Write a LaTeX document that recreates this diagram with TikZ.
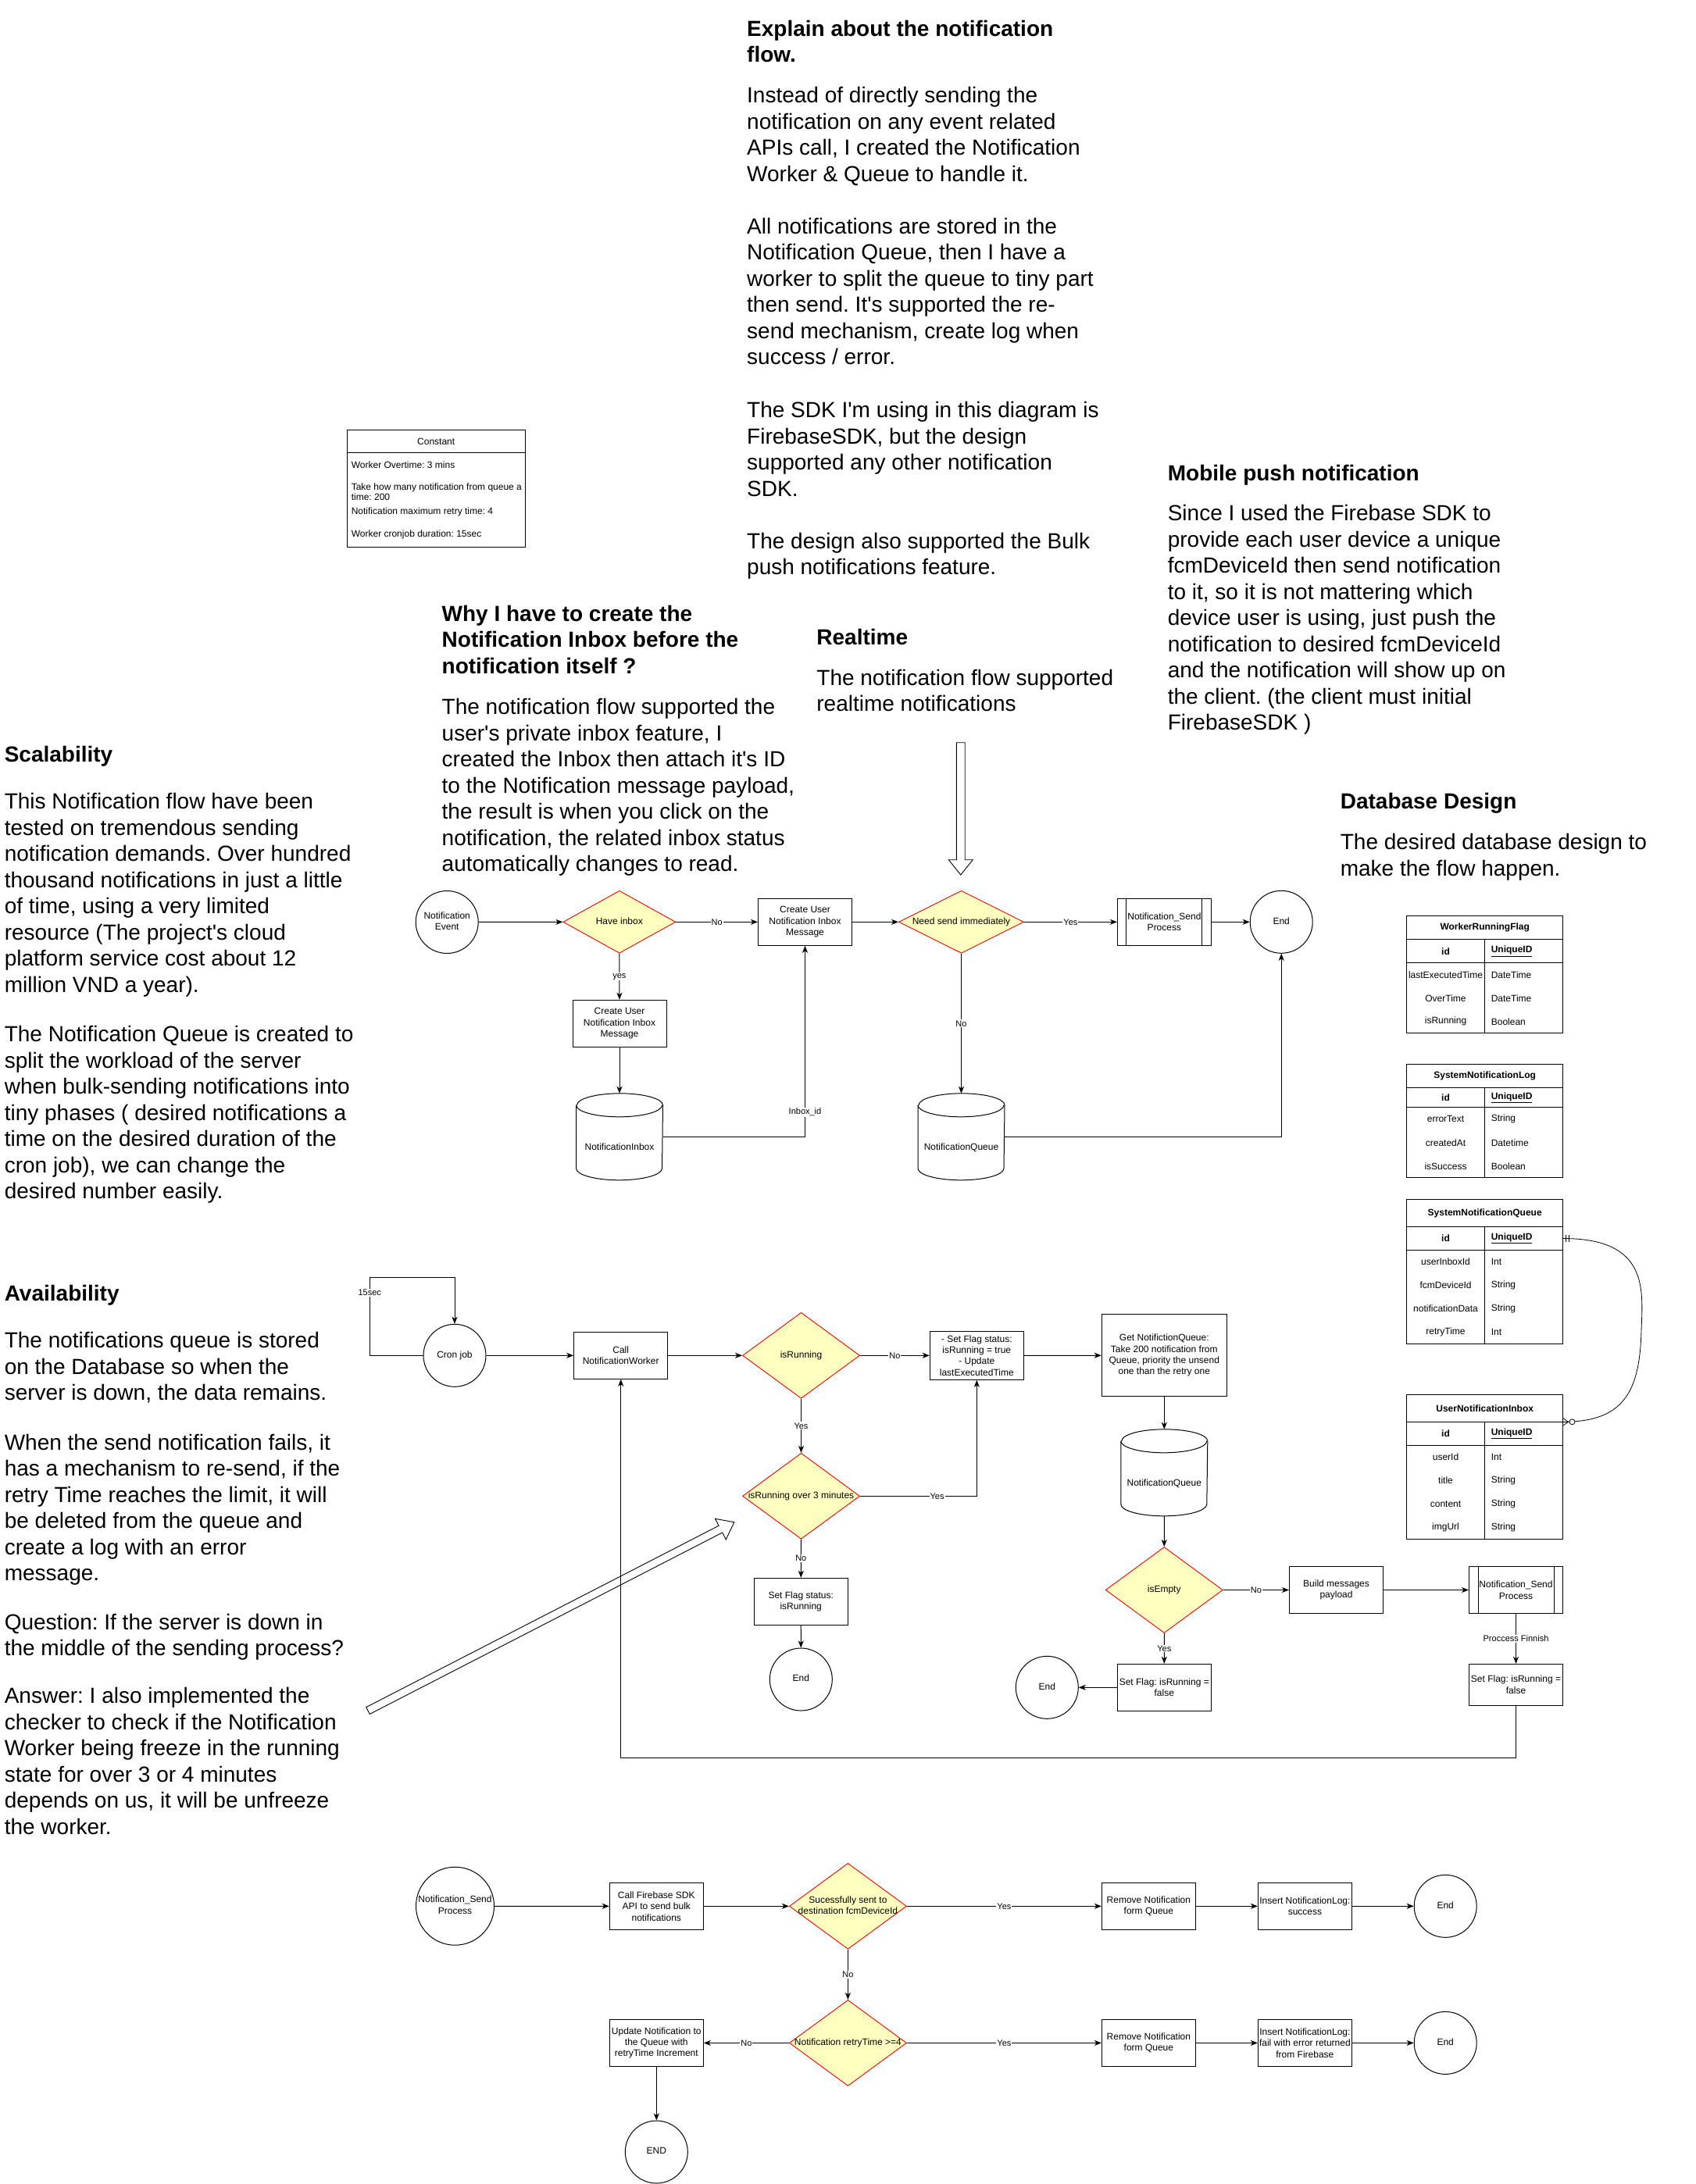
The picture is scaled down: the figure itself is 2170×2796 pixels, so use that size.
\documentclass[tikz,border=0pt]{standalone}
\usepackage{fontspec}
\setmainfont{Liberation Sans}
\usetikzlibrary{shapes.geometric,arrows.meta,calc}
\frenchspacing
\definecolor{decfill}{HTML}{FFFFC0}
\definecolor{decline}{HTML}{FF0000}
\newcommand\q{\textquotesingle}
\newcommand\zw[1]{\makebox[0pt]{\begin{tabular}{@{}c@{}}#1\end{tabular}}}
\newcommand\cyltxt[1]{\makebox[0pt]{\raisebox{-16.7pt}[0pt][0pt]{#1}}}
\newcommand\cylout[1]{%
  \draw ($(#1.north west)+(0,15)$) -- ($(#1.south west)+(0,-15)$) arc[start angle=180,end angle=360,x radius=55pt,y radius=15pt] -- ($(#1.north east)+(0,15)$) arc[start angle=0,end angle=180,x radius=55pt,y radius=15pt];
  \draw ($(#1.north west)+(0,15)$) arc[start angle=180,end angle=360,x radius=55pt,y radius=15pt];}
\newcommand\procl[1]{%
  \draw ($(#1.north west)+(12,0)$) -- ($(#1.south west)+(12,0)$);
  \draw ($(#1.north east)+(-12,0)$) -- ($(#1.south east)+(-12,0)$);}
\newcommand\trow[4]{%
  \node[tcell] (#1k) at (1850.5,#2) {#3};
  \node[tcell,anchor=west] (#1t) at (1908.3,#2) {#4};}
\newcommand\dbtable[4]{%
  \draw (1800.7,#1) rectangle (2000.7,#4);
  \draw (1800.7,#2) -- (2000.7,#2);
  \draw (1800.7,#3) -- (2000.7,#3);
  \draw (1900.3,#2) -- (1900.3,#4);}
\begin{document}
\begin{tikzpicture}[x=1pt,y=-1pt,line width=1pt,
 >={Stealth[length=9pt,width=7pt,inset=2.5pt]},
 bigt/.style={font=\fontsize{28}{33.5}\selectfont,align=left,inner sep=0pt,anchor=north west},
 bigh/.style={font=\fontsize{28}{33.5}\selectfont\bfseries,align=left,inner sep=0pt,anchor=north west},
 lbl/.style={font=\fontsize{12}{14.4}\selectfont,align=center,inner sep=0pt},
 rbox/.style={lbl,draw,rectangle,minimum width=120pt,minimum height=60pt},
 dbox/.style={diamond,draw=decline,fill=decfill,inner sep=0pt,line width=0.9pt,font=\fontsize{12}{14.4}\selectfont},
 tcirc/.style={circle,draw,inner sep=0pt,minimum size=80pt,font=\fontsize{12}{14.4}\selectfont},
 cylb/.style={rectangle,inner sep=0pt,minimum width=110pt,minimum height=110pt,font=\fontsize{12}{14.4}\selectfont},
 elab/.style={font=\fontsize{11}{13}\selectfont,fill=white,inner sep=1pt},
 hollow/.style={draw,fill=white,line width=0.9pt,line join=miter},
 tcell/.style={font=\fontsize{12}{14.4}\selectfont,inner sep=0pt},
 tbold/.style={font=\fontsize{12}{14.4}\selectfont\bfseries,inner sep=0pt},
]
\useasboundingbox (0,0) rectangle (2170,2796);
\fill[white] (0,0) rectangle (2170,2796);

% ---------------- explanatory texts ----------------
\node[bigh] (h1) at (955.7,22.3) {\strut Explain about the notification\\flow.};
\node[bigt] (p1a) at (955.7,107.9) {\strut Instead of directly sending the\\notification on any event related\\APIs call, I created the Notification\\Worker \& Queue to handle it.};
\node[bigt] (p1b) at (955.7,275.5) {\strut All notifications are stored in the\\Notification Queue, then I have a\\worker to split the queue to tiny part\\then send. It\q s supported the re-\\send mechanism, create log when\\success / error.};
\node[bigt] (p1c) at (955.7,510.8) {\strut The SDK I\q m using in this diagram is\\FirebaseSDK, but the design\\supported any other notification\\SDK.};
\node[bigt] (p1d) at (955.7,678.4) {\strut The design also supported the Bulk\\push notifications feature.};

\node[bigh] (hm) at (1494.3,591.1) {\strut Mobile push notification};
\node[bigt] (pm) at (1494.3,642.8) {\strut Since I used the Firebase SDK to\\provide each user device a unique\\fcmDeviceId then send notification\\to it, so it is not mattering which\\device user is using, just push the\\notification to desired fcmDeviceId\\and the notification will show up on\\the client. (the client must initial\\FirebaseSDK )};

\node[bigh] (hw) at (565.2,771.2) {\strut Why I have to create the\\Notification Inbox before the\\notification itself ?};
\node[bigt] (pw) at (565.2,890.6) {\strut The notification flow supported the\\user\q s private inbox feature, I\\created the Inbox then attach it\q s ID\\to the Notification message payload,\\the result is when you click on the\\notification, the related inbox status\\automatically changes to read.};

\node[bigh] (hr) at (1044.9,801.5) {\strut Realtime};
\node[bigt] (pr) at (1044.9,853.2) {\strut The notification flow supported\\realtime notifications};

\node[bigh] (hd) at (1715.3,1011.9) {\strut Database Design};
\node[bigt] (pd) at (1715.3,1063.6) {\strut The desired database design to\\make the flow happen.};

\node[bigh] (hs) at (5.3,951.3) {\strut Scalability};
\node[bigt] (ps1) at (5.3,1011.9) {\strut This Notification flow have been\\tested on tremendous sending\\notification demands. Over hundred\\thousand notifications in just a little\\of time, using a very limited\\resource (The project\q s cloud\\platform service cost about 12\\million VND a year).};
\node[bigt] (ps2) at (5.3,1309.7) {\strut The Notification Queue is created to\\split the workload of the server\\when bulk-sending notifications into\\tiny phases ( desired notifications a\\time on the desired duration of the\\cron job), we can change the\\desired number easily.};

\node[bigh] (ha) at (5.3,1641.3) {\strut Availability};
\node[bigt] (pa1) at (5.3,1701.9) {\strut The notifications queue is stored\\on the Database so when the\\server is down, the data remains.};
\node[bigt] (pa2) at (5.3,1832.1) {\strut When the send notification fails, it\\has a mechanism to re-send, if the\\retry Time reaches the limit, it will\\be deleted from the queue and\\create a log with an error\\message.};
\node[bigt] (pa3) at (5.3,2062.1) {\strut Question: If the server is down in\\the middle of the sending process?};
\node[bigt] (pa4) at (5.3,2156.6) {\strut Answer: I also implemented the\\checker to check if the Notification\\Worker being freeze in the running\\state for over 3 or 4 minutes\\depends on us, it will be unfreeze\\the worker.};

% ---------------- Constant box ----------------
\node[draw,anchor=north west,inner sep=0pt,minimum width=228.3pt,minimum height=149.7pt] (const) at (444,550) {};
\draw ($(const.north west)+(0,29.7)$) -- ($(const.north east)+(0,29.7)$);
\node[tcell] (constt) at (558.2,565) {Constant};
\node[tcell,anchor=west] (ci1) at (449.3,595.7) {Worker Overtime: 3 mins};
\node[tcell,anchor=west,align=left,font=\fontsize{12}{12.5}\selectfont] (ci2) at (449.3,629.5) {Take how many notification from queue a\\time: 200};
\node[tcell,anchor=west] (ci3) at (449.3,655) {Notification maximum retry time: 4};
\node[tcell,anchor=west] (ci4) at (449.3,684.5) {Worker cronjob duration: 15sec};

% ---------------- hollow arrows ----------------
\draw[hollow] (1224.4,950.7) -- (1235.2,950.7) -- (1235.2,1100.7) -- (1245.3,1100.7) -- (1229.8,1120) -- (1214.3,1100.7) -- (1224.4,1100.7) -- cycle;
\draw[hollow] (468.7,2185.6) -- (920.1,1953.2) -- (915.5,1944.3) -- (939.8,1948.7) -- (929.3,1970.9) -- (924.7,1962.0) -- (473.3,2194.4) -- cycle;

% ---------------- top flow ----------------
\node[tcirc] (ev) at (572.2,1180.5) {\zw{Notification\\Event}};
\node[dbox,minimum width=144pt,minimum height=80pt] (hinbox) at (792.8,1180.3) {\zw{Have inbox}};
\node[rbox] (c2) at (1030.5,1180.3) {Create User\\Notification Inbox\\Message};
\node[rbox] (c1) at (793,1310.3) {Create User\\Notification Inbox\\Message};
\node[cylb] (ninbox) at (793,1455.3) {\cyltxt{NotificationInbox}};
\cylout{ninbox}
\node[dbox,minimum width=160pt,minimum height=80pt] (nsend) at (1230.5,1180.3) {\zw{Need send immediately}};
\node[rbox] (proc1) at (1490.4,1180.3) {Notification\_Send\\Process};
\procl{proc1}
\node[tcirc] (end1) at (1640.2,1180.3) {\zw{End}};
\node[cylb] (nqueue1) at (1230.5,1455.3) {\cyltxt{NotificationQueue}};
\cylout{nqueue1}

\draw[->] (ev) -- (hinbox);
\draw[->] (hinbox) -- node[elab]{No} (c2);
\draw[->] (hinbox) -- node[elab]{yes} (c1);
\draw[->] (c1) -- (ninbox);
\draw[->] (ninbox.east) -| node[elab,pos=0.564]{Inbox\_id} (c2.south);
\draw[->] (c2) -- (nsend);
\draw[->] (nsend) -- node[elab]{Yes} (proc1);
\draw[->] (proc1) -- (end1);
\draw[->] (nsend) -- node[elab]{No} (nqueue1);
\draw[->] (nqueue1.east) -| (end1.south);

% ---------------- database tables ----------------
\dbtable{1172.7}{1202.7}{1232.7}{1322.7}
\node[tbold] (t1n) at (1900.7,1187.7) {WorkerRunningFlag};
\trow{t1id}{1217.7}{\textbf{id}}{\textbf{\underline{UniqueID}}}
\trow{t1a}{1247.7}{lastExecutedTime}{DateTime}
\trow{t1b}{1277.7}{OverTime}{DateTime}
\trow{t1c}{1307.7}{isRunning}{Boolean}

\dbtable{1362.7}{1392.7}{1417.7}{1507.7}
\node[tbold] (t2n) at (1900.7,1377.7) {SystemNotificationLog};
\trow{t2id}{1405.2}{\textbf{id}}{\textbf{\underline{UniqueID}}}
\trow{t2a}{1432.7}{errorText}{String}
\trow{t2b}{1462.7}{createdAt}{Datetime}
\trow{t2c}{1492.7}{isSuccess}{Boolean}

\dbtable{1535.3}{1570.7}{1600.3}{1720.3}
\node[tbold] (t3n) at (1900.7,1553) {SystemNotificationQueue};
\trow{t3id}{1585.5}{\textbf{id}}{\textbf{\underline{UniqueID}}}
\trow{t3a}{1615.3}{userInboxId}{Int}
\trow{t3b}{1645.3}{fcmDeviceId}{String}
\trow{t3c}{1675.3}{notificationData}{String}
\trow{t3d}{1705.3}{retryTime}{Int}

\dbtable{1785.7}{1820.3}{1850.3}{1970.3}
\node[tbold] (t4n) at (1900.7,1803) {UserNotificationInbox};
\trow{t4id}{1835.3}{\textbf{id}}{\textbf{\underline{UniqueID}}}
\trow{t4a}{1865.3}{userId}{Int}
\trow{t4b}{1895.3}{title}{String}
\trow{t4c}{1925.3}{content}{String}
\trow{t4d}{1955.3}{imgUrl}{String}

\coordinate (relA) at (2000.7,1585.5);
\coordinate (relB) at (2000.7,1820.3);
\draw[line width=0.8pt] (relA) .. controls (2110,1585.5) and (2103,1650) .. (2101,1703) .. controls (2099,1780) and (2080,1820.3) .. (relB);
\draw[line width=0.8pt] (2004.5,1581) -- (2004.5,1590);
\draw[line width=0.8pt] (2008,1581) -- (2008,1590);
\draw[line width=0.8pt] (2000.7,1815.5) -- (2007.5,1820.3) -- (2000.7,1825.1);
\draw[line width=0.8pt] (2000.7,1820.3) -- (2007.5,1820.3);
\draw[line width=0.8pt,fill=white] (2012.5,1820.3) circle[radius=3.5pt];

% ---------------- worker flow ----------------
\node[tcirc] (cron) at (582,1735.3) {\zw{Cron job}};
\node[rbox] (call) at (794.7,1735.3) {Call\\NotificationWorker};
\node[dbox,minimum width=150pt,minimum height=110pt] (isrun) at (1025.5,1735.3) {\zw{isRunning}};
\node[dbox,minimum width=150pt,minimum height=110pt] (isrun3) at (1025.5,1915.3) {\zw{isRunning over 3 minutes}};
\node[rbox] (sfr) at (1025.2,2050.3) {Set Flag status:\\isRunning};
\node[tcirc] (end2) at (1025.3,2150) {\zw{End}};
\node[rbox,minimum height=62pt] (sf1) at (1250.3,1735.3) {- Set Flag status:\\isRunning = true\\- Update\\lastExecutedTime};
\node[rbox,minimum width=160pt,minimum height=105pt] (get) at (1490.3,1735.2) {Get NotifictionQueue:\\Take 200 notification from\\Queue, priority the unsend\\one than the retry one};
\node[cylb] (nqueue2) at (1490.3,1885.3) {\cyltxt{NotificationQueue}};
\cylout{nqueue2}
\node[dbox,minimum width=150pt,minimum height=110pt] (isempty) at (1490.2,2035.5) {\zw{isEmpty}};
\node[rbox] (build) at (1710.5,2035.5) {Build messages\\payload};
\node[rbox] (proc2) at (1940.5,2035.5) {Notification\_Send\\Process};
\procl{proc2}
\node[rbox,minimum height=52.7pt] (sf3) at (1940.5,2156.7) {Set Flag: isRunning =\\false};
\node[rbox] (sf2) at (1490.3,2160.3) {Set Flag: isRunning =\\false};
\node[tcirc] (end3) at (1340.3,2160.3) {\zw{End}};

\coordinate (cl1) at (473.2,1735.3);
\coordinate (cl2) at (473.2,1635);
\coordinate (cl3) at (582,1635);
\draw[->] (cron.west) -- (cl1) -- node[elab,pos=0.8]{15sec} (cl2) -- (cl3) -- (cron.north);
\draw[->] (cron) -- (call);
\draw[->] (call) -- (isrun);
\draw[->] (isrun) -- node[elab]{No} (sf1);
\draw[->] (isrun) -- node[elab]{Yes} (isrun3);
\draw[->] (isrun3) -- node[elab]{No} (sfr);
\draw[->] (sfr) -- (end2);
\draw[->] (isrun3.east) -| node[elab,pos=0.33]{Yes} (sf1.south);
\draw[->] (sf1) -- (get);
\draw[->] (get) -- (nqueue2);
\draw[->] (nqueue2) -- (isempty);
\draw[->] (isempty) -- node[elab]{No} (build);
\draw[->] (build) -- (proc2);
\draw[->] (proc2) -- node[elab]{Proccess Finnish} (sf3);
\draw[->] (isempty) -- node[elab]{Yes} (sf2);
\draw[->] (sf2) -- (end3);
\coordinate (lb) at (1940.5,2250.3);
\draw[->] (sf3.south) -- (lb) -| (call.south);

% ---------------- send process flow ----------------
\node[tcirc,minimum size=100pt] (nsp) at (582.5,2440.2) {\zw{Notification\_Send\\Process}};
\node[rbox] (fb) at (840.3,2440.3) {Call Firebase SDK\\API to send bulk\\notifications};
\node[dbox,minimum width=150pt,minimum height=110pt] (succ) at (1085.4,2440.3) {\zw{Sucessfully sent to\\destination fcmDeviceId}};
\node[rbox] (rem1) at (1470.4,2440.3) {Remove Notification\\form Queue};
\node[rbox] (log1) at (1670.4,2440.3) {Insert NotificationLog:\\success};
\node[tcirc] (end4) at (1850.2,2440.3) {\zw{End}};
\node[dbox,minimum width=150pt,minimum height=110pt] (retry) at (1085.4,2615.4) {\zw{Notification retryTime >=4}};
\node[rbox] (upd) at (840.3,2615.4) {Update Notification to\\the Queue with\\retryTime Increment};
\node[tcirc] (endB) at (840.3,2755) {\zw{END}};
\node[rbox] (rem2) at (1470.4,2615.4) {Remove Notification\\form Queue};
\node[rbox] (log2) at (1670.4,2615.4) {Insert NotificationLog:\\fail with error returned\\from Firebase};
\node[tcirc] (end5) at (1850.2,2615.4) {\zw{End}};

\draw[->] (nsp) -- (fb);
\draw[->] (fb) -- (succ);
\draw[->] (succ) -- node[elab]{Yes} (rem1);
\draw[->] (rem1) -- (log1);
\draw[->] (log1) -- (end4);
\draw[->] (succ) -- node[elab]{No} (retry);
\draw[->] (retry) -- node[elab]{No} (upd);
\draw[->] (upd) -- (endB);
\draw[->] (retry) -- node[elab]{Yes} (rem2);
\draw[->] (rem2) -- (log2);
\draw[->] (log2) -- (end5);
\end{tikzpicture}
\end{document}
